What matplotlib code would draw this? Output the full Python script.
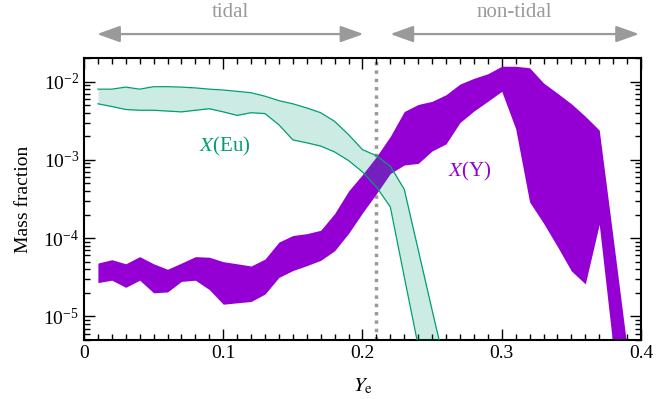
import numpy as np
import matplotlib
matplotlib.use('Agg')
import matplotlib.pyplot as plt
from matplotlib.ticker import LogLocator, LogFormatterMathtext, MultipleLocator, NullFormatter

plt.rcParams['font.family'] = ['Liberation Serif', 'DejaVu Serif']
plt.rcParams['mathtext.fontset'] = 'stix'

# X(Eu) band
ye_eu = [0.01, 0.02, 0.03, 0.04, 0.05, 0.06, 0.07, 0.08, 0.09, 0.10, 0.11, 0.12, 0.13,
         0.14, 0.15, 0.16, 0.17, 0.18, 0.19, 0.20, 0.21, 0.22, 0.23, 0.24, 0.25, 0.26]
eu_hi = [8.0e-3, 8.0e-3, 8.5e-3, 8.0e-3, 8.6e-3, 8.6e-3, 8.5e-3, 8.3e-3, 8.0e-3, 7.8e-3, 7.5e-3,
         7.2e-3, 6.5e-3, 5.7e-3, 5.2e-3, 4.6e-3, 4.0e-3, 3.1e-3, 2.1e-3, 1.35e-3, 1.13e-3,
         8.3e-4, 4.2e-4, 7.1e-5, 1.2e-5, 2.1e-6]
eu_lo = [5.2e-3, 4.8e-3, 4.4e-3, 4.3e-3, 4.3e-3, 4.2e-3, 4.1e-3, 4.3e-3, 4.5e-3, 4.1e-3, 3.7e-3,
         4.0e-3, 3.9e-3, 2.8e-3, 1.8e-3, 1.65e-3, 1.5e-3, 1.26e-3, 9.8e-4, 7.0e-4, 4.5e-4,
         2.5e-4, 3.2e-5, 4.2e-6, 1e-6, 1e-7]

# X(Y) band
ye_y = [0.01, 0.02, 0.03, 0.04, 0.05, 0.06, 0.07, 0.08, 0.09, 0.10, 0.11, 0.12, 0.13,
        0.14, 0.15, 0.16, 0.17, 0.18, 0.19, 0.20, 0.21, 0.22, 0.23, 0.24, 0.25, 0.26,
        0.27, 0.28, 0.29, 0.30, 0.31, 0.32, 0.33, 0.34, 0.35, 0.36, 0.37, 0.38, 0.39]
y_hi = [4.8e-5, 5.3e-5, 4.7e-5, 5.8e-5, 4.7e-5, 4.0e-5, 4.8e-5, 5.8e-5, 5.7e-5, 5.0e-5, 4.7e-5,
        4.4e-5, 5.4e-5, 8.9e-5, 1.08e-4, 1.14e-4, 1.26e-4, 2.06e-4, 4.0e-4, 6.5e-4, 1.1e-3,
        2.0e-3, 4.15e-3, 5.1e-3, 5.6e-3, 6.8e-3, 9.3e-3, 1.1e-2, 1.26e-2, 1.57e-2, 1.57e-2,
        1.5e-2, 9.6e-3, 7.1e-3, 5.2e-3, 3.6e-3, 2.4e-3, 1.0e-4, 4e-6]
y_lo = [2.7e-5, 2.9e-5, 2.35e-5, 2.9e-5, 2.0e-5, 2.05e-5, 2.8e-5, 2.9e-5, 2.2e-5, 1.43e-5, 1.49e-5,
        1.55e-5, 1.93e-5, 3.15e-5, 3.85e-5, 4.45e-5, 5.2e-5, 6.9e-5, 1.15e-4, 2.1e-4, 3.7e-4,
        6.7e-4, 8.6e-4, 9.0e-4, 1.3e-3, 1.6e-3, 3.0e-3, 4.2e-3, 5.6e-3, 7.5e-3, 2.5e-3,
        2.9e-4, 1.55e-4, 7.8e-5, 3.8e-5, 2.6e-5, 1.5e-4, 4e-6, 1.5e-6]

ye_split = 0.21

purple = '#9400d3'
green = '#009e73'
grey = '#9a9a9a'

fig = plt.figure(figsize=(6.68, 3.99), dpi=100)
ax = fig.add_axes([0.1257, 0.148, 0.8339, 0.7066])

ax.axvline(ye_split, color=grey, lw=2.5, linestyle=(0, (1, 1.4)), zorder=1)
ax.fill_between(ye_y, y_lo, y_hi, color=purple, lw=0, zorder=2)
ax.fill_between(ye_eu, eu_lo, eu_hi, color=green, alpha=0.2, lw=0, zorder=3)
ax.plot(ye_eu, eu_hi, color=green, lw=0.9, zorder=4)
ax.plot(ye_eu, eu_lo, color=green, lw=0.9, zorder=4)

ax.text(0.101, 1.48e-3, r'$X$(Eu)', color=green, fontsize=15, ha='center', va='center')
ax.text(0.277, 7.0e-4, r'$X$(Y)', color=purple, fontsize=15, ha='center', va='center')

ax.set_yscale('log')
ax.set_xlim(0, 0.4)
ax.set_ylim(5e-6, 2e-2)
ax.xaxis.set_major_locator(MultipleLocator(0.1))
ax.xaxis.set_minor_locator(MultipleLocator(0.01))
ax.set_xticks([0, 0.1, 0.2, 0.3, 0.4])
ax.set_xticklabels(['0', '0.1', '0.2', '0.3', '0.4'])
ax.yaxis.set_major_locator(LogLocator(base=10))
ax.yaxis.set_major_formatter(LogFormatterMathtext())
ax.yaxis.set_minor_locator(LogLocator(base=10, subs=np.arange(2, 10)))
ax.yaxis.set_minor_formatter(NullFormatter())
ax.tick_params(which='both', direction='in', top=True, right=True, labelsize=14, width=1)
ax.tick_params(which='major', length=8)
ax.tick_params(which='minor', length=4)
for s in ax.spines.values():
    s.set_linewidth(1.5)

ax.set_xlabel(r'$Y_\mathrm{e}$', fontsize=15, labelpad=11)
ax.set_ylabel('Mass fraction', fontsize=14, labelpad=8)

trans = ax.get_xaxis_transform()
arrow = dict(arrowstyle='<|-|>,head_length=0.7,head_width=0.25', color=grey, lw=1.6,
             mutation_scale=20, shrinkA=0, shrinkB=0)
ax.annotate('', xy=(0.2007, 1.085), xytext=(0.0094, 1.085), xycoords=trans,
            arrowprops=arrow, annotation_clip=False)
ax.annotate('', xy=(0.3986, 1.085), xytext=(0.220, 1.085), xycoords=trans,
            arrowprops=arrow, annotation_clip=False)
ax.text(0.105, 1.16, 'tidal', transform=trans, color=grey, fontsize=15, ha='center', va='center')
ax.text(0.309, 1.16, 'non-tidal', transform=trans, color=grey, fontsize=15, ha='center', va='center')

fig.savefig('out.png', dpi=100)
